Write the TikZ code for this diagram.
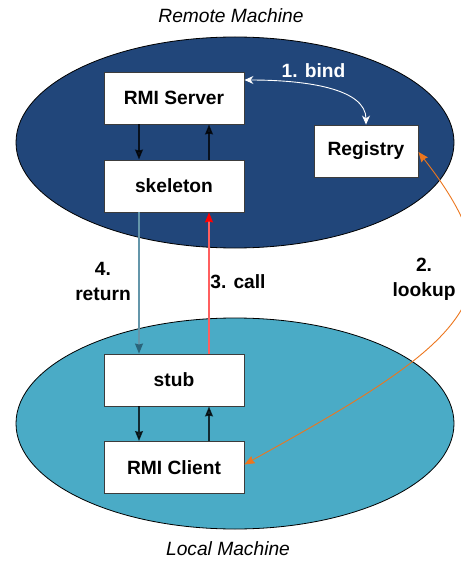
\documentclass[tikz,border=0pt]{standalone}
\usepackage{fontspec}
\setmainfont{Liberation Sans}
\usetikzlibrary{arrows.meta}
\definecolor{remotefill}{RGB}{33,70,122}
\definecolor{localfill}{RGB}{74,171,198}
\definecolor{boxline}{RGB}{60,60,60}
\definecolor{returncol}{RGB}{42,100,122}
\definecolor{returnline}{RGB}{100,150,170}
\definecolor{callline}{RGB}{255,95,95}
\definecolor{lookupcol}{RGB}{236,118,30}
\begin{document}
\begin{tikzpicture}[x=1pt,y=-1pt,
  font=\fontsize{19.2}{25}\selectfont,
  machine/.style={draw=black,line width=0.8pt},
  box/.style={draw=boxline,fill=white,line width=0.9pt,minimum width=140pt,
    minimum height=52pt,inner sep=0pt,font=\fontsize{19.2}{25}\selectfont\bfseries},
  flow/.style={line width=1.4pt,draw=black,opacity=0.75,
    -{Stealth[length=10pt,width=8pt,inset=1pt]}},
  retflow/.style={line width=1.2pt,draw=returnline,
    -{Stealth[length=10pt,width=8pt,inset=1pt,fill=returncol,color=returncol]}},
  callflow/.style={line width=1.2pt,draw=callline,
    -{Stealth[length=10pt,width=8pt,inset=1pt,fill=red,color=red]}},
  bindflow/.style={line width=0.9pt,draw=white,
    {Stealth[length=9pt,width=8pt,inset=3pt]}-{Stealth[length=9pt,width=8pt,inset=3pt]}},
  lookupflow/.style={line width=0.9pt,draw=lookupcol,
    {Stealth[length=10pt,width=8pt,inset=1pt]}-{Stealth[length=10pt,width=8pt,inset=1pt]}},
  lbl/.style={font=\fontsize{19.2}{25}\selectfont\bfseries,align=center,inner sep=0pt}
]
\useasboundingbox (0,0) rectangle (460,561);

% the two machines
\draw[machine,fill=remotefill] (235,142.5) ellipse [x radius=219, y radius=105.5];
\draw[machine,fill=localfill] (235,423.5) ellipse [x radius=219, y radius=105.5];
\node[font=\fontsize{19.2}{25}\selectfont\itshape] (remote) at (231,16) {Remote Machine};
\node[font=\fontsize{19.2}{25}\selectfont\itshape] (local) at (228,549) {Local Machine};

% components
\node[box] (server) at (174,98) {RMI Server};
\node[box] (skel) at (174,186) {skeleton};
\node[box,minimum width=104pt] (reg) at (366,151) {Registry};
\node[box] (stub) at (174,380) {stub};
\node[box] (client) at (174,467.5) {RMI Client};

% calls inside each machine
\draw[flow] ([xshift=-35pt]server.south) -- ([xshift=-35pt]skel.north);
\draw[flow] ([xshift=35pt]skel.north) -- ([xshift=35pt]server.south);
\draw[flow] ([xshift=-35pt]stub.south) -- ([xshift=-35pt]client.north);
\draw[flow] ([xshift=35pt]client.north) -- ([xshift=35pt]stub.south);

% remote invocation
\draw[retflow] ([xshift=-35pt]skel.south) -- ([xshift=-35pt]stub.north);
\draw[callflow] ([xshift=35pt]stub.north) -- ([xshift=35pt]skel.south);

% registry traffic
\draw[bindflow] ([yshift=18pt]server.east) .. controls +(62,0) and +(0,-36) .. (reg.north);
\draw[lookupflow] ([yshift=-1pt]reg.east) .. controls (530,294) and (464,343) .. ([yshift=3pt]client.east);

% labels
\node[lbl,text=white] (bindlbl) at (313.5,71) {1. bind};
\node[lbl] (lookuplbl) at (424,279) {2.\\lookup};
\node[lbl] (calllbl) at (238,282) {3. call};
\node[lbl] (returnlbl) at (103,281) {4.\\return};
\end{tikzpicture}
\end{document}
